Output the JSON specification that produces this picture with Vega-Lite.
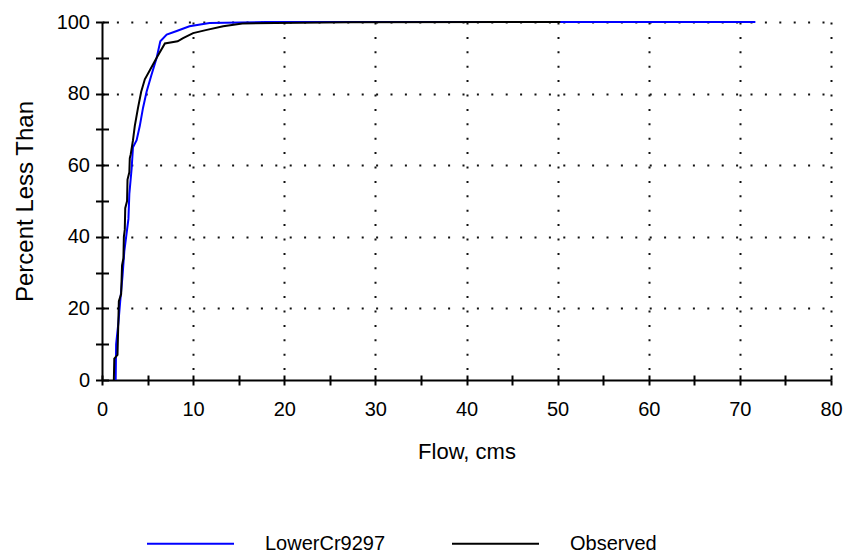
{
  "$schema": "https://vega.github.io/schema/vega-lite/v6.json",
  "width": 729,
  "height": 358,
  "autosize": "none",
  "padding": {"left": 102, "top": 22, "right": 13, "bottom": 174},
  "background": "white",
  "config": {
    "view": {"stroke": null},
    "font": "Liberation Sans",
    "axis": {
      "labelFont": "Liberation Sans",
      "titleFont": "Liberation Sans",
      "labelColor": "#000",
      "titleColor": "#000",
      "titleFontWeight": "normal",
      "labelFontSize": 20,
      "titleFontSize": 22,
      "domainColor": "#000",
      "domainWidth": 2,
      "tickColor": "#000",
      "tickWidth": 2
    },
    "legend": {
      "labelFont": "Liberation Sans",
      "labelFontSize": 20,
      "labelColor": "#000"
    }
  },
  "data": {
    "values": [
      {"series": "LowerCr9297", "flow": 1.5, "pct": 0},
      {"series": "LowerCr9297", "flow": 1.55, "pct": 10},
      {"series": "LowerCr9297", "flow": 1.8, "pct": 16},
      {"series": "LowerCr9297", "flow": 2.0, "pct": 22},
      {"series": "LowerCr9297", "flow": 2.25, "pct": 29},
      {"series": "LowerCr9297", "flow": 2.45, "pct": 36},
      {"series": "LowerCr9297", "flow": 2.65, "pct": 40},
      {"series": "LowerCr9297", "flow": 2.9, "pct": 45},
      {"series": "LowerCr9297", "flow": 3.0, "pct": 52},
      {"series": "LowerCr9297", "flow": 3.25, "pct": 59},
      {"series": "LowerCr9297", "flow": 3.4, "pct": 65},
      {"series": "LowerCr9297", "flow": 3.8, "pct": 67},
      {"series": "LowerCr9297", "flow": 4.15, "pct": 71},
      {"series": "LowerCr9297", "flow": 4.5, "pct": 76},
      {"series": "LowerCr9297", "flow": 4.9, "pct": 80.6},
      {"series": "LowerCr9297", "flow": 5.4, "pct": 85},
      {"series": "LowerCr9297", "flow": 6.0, "pct": 90},
      {"series": "LowerCr9297", "flow": 6.4, "pct": 94.6},
      {"series": "LowerCr9297", "flow": 7.1, "pct": 96.5},
      {"series": "LowerCr9297", "flow": 8.2, "pct": 97.5},
      {"series": "LowerCr9297", "flow": 9.6, "pct": 98.8},
      {"series": "LowerCr9297", "flow": 11.8, "pct": 99.7},
      {"series": "LowerCr9297", "flow": 18, "pct": 100},
      {"series": "LowerCr9297", "flow": 71.7, "pct": 100},
      {"series": "Observed", "flow": 1.3, "pct": 0},
      {"series": "Observed", "flow": 1.35, "pct": 6},
      {"series": "Observed", "flow": 1.7, "pct": 7},
      {"series": "Observed", "flow": 1.85, "pct": 22},
      {"series": "Observed", "flow": 2.1, "pct": 24},
      {"series": "Observed", "flow": 2.2, "pct": 32},
      {"series": "Observed", "flow": 2.35, "pct": 34},
      {"series": "Observed", "flow": 2.4, "pct": 40},
      {"series": "Observed", "flow": 2.5, "pct": 42},
      {"series": "Observed", "flow": 2.55, "pct": 48},
      {"series": "Observed", "flow": 2.75, "pct": 50},
      {"series": "Observed", "flow": 2.8, "pct": 56},
      {"series": "Observed", "flow": 3.0, "pct": 58},
      {"series": "Observed", "flow": 3.05, "pct": 62},
      {"series": "Observed", "flow": 3.15, "pct": 63},
      {"series": "Observed", "flow": 3.4, "pct": 67},
      {"series": "Observed", "flow": 3.6, "pct": 71},
      {"series": "Observed", "flow": 3.95, "pct": 76},
      {"series": "Observed", "flow": 4.3, "pct": 80.5},
      {"series": "Observed", "flow": 4.7, "pct": 84},
      {"series": "Observed", "flow": 5.25, "pct": 86.5},
      {"series": "Observed", "flow": 6.0, "pct": 90},
      {"series": "Observed", "flow": 6.9, "pct": 94},
      {"series": "Observed", "flow": 8.3, "pct": 94.6},
      {"series": "Observed", "flow": 8.9, "pct": 95.5},
      {"series": "Observed", "flow": 10.0, "pct": 96.9},
      {"series": "Observed", "flow": 11.5, "pct": 97.8},
      {"series": "Observed", "flow": 13.3, "pct": 98.8},
      {"series": "Observed", "flow": 15.4, "pct": 99.6},
      {"series": "Observed", "flow": 19.0, "pct": 99.7},
      {"series": "Observed", "flow": 27.0, "pct": 99.9},
      {"series": "Observed", "flow": 50.3, "pct": 100}
    ]
  },
  "layer": [
    {
      "mark": {"type": "point", "opacity": 0},
      "encoding": {
        "x": {
          "field": "flow", "type": "quantitative",
          "scale": {"domain": [0, 80], "nice": false, "zero": false},
          "axis": {
            "orient": "bottom", "title": null, "labels": false, "ticks": false, "domain": false,
            "grid": true, "values": [10, 20, 30, 40, 50, 60, 70, 80],
            "gridColor": "#111", "gridWidth": 2, "gridDash": [2, 12.4], "gridOpacity": 1
          }
        },
        "y": {
          "field": "pct", "type": "quantitative",
          "scale": {"domain": [0, 100], "nice": false, "zero": false},
          "axis": {
            "orient": "left", "title": null, "labels": false, "ticks": false, "domain": false,
            "grid": true, "values": [20, 40, 60, 80, 100],
            "gridColor": "#111", "gridWidth": 2, "gridDash": [2, 12.4], "gridOpacity": 1
          }
        }
      }
    },
    {
      "mark": {"type": "point", "opacity": 0},
      "encoding": {
        "x": {
          "field": "flow", "type": "quantitative",
          "axis": {
            "orient": "bottom", "title": null, "labels": false, "domain": false, "grid": false,
            "ticks": true, "tickSize": 5, "offset": -5,
            "values": [0, 5, 10, 15, 20, 25, 30, 35, 40, 45, 50, 55, 60, 65, 70, 75, 80]
          }
        },
        "y": {
          "field": "pct", "type": "quantitative",
          "axis": {
            "orient": "left", "title": null, "labels": false, "domain": false, "grid": false,
            "ticks": true, "tickSize": 6.5, "offset": -6.5,
            "values": [0, 10, 20, 30, 40, 50, 60, 70, 80, 90, 100]
          }
        }
      }
    },
    {
      "mark": {"type": "line", "strokeWidth": 2},
      "encoding": {
        "x": {
          "field": "flow", "type": "quantitative",
          "axis": {
            "orient": "bottom", "title": "Flow, cms", "grid": false,
            "values": [0, 5, 10, 15, 20, 25, 30, 35, 40, 45, 50, 55, 60, 65, 70, 75, 80],
            "labelExpr": "datum.value % 10 === 0 ? datum.label : ''",
            "tickSize": 5, "labelPadding": 14, "titlePadding": 22,
            "labelFlush": false, "labelOverlap": false
          }
        },
        "y": {
          "field": "pct", "type": "quantitative",
          "axis": {
            "orient": "left", "title": "Percent Less Than", "grid": false,
            "values": [0, 10, 20, 30, 40, 50, 60, 70, 80, 90, 100],
            "labelExpr": "datum.value % 20 === 0 ? datum.label : ''",
            "tickSize": 6.5, "labelPadding": 6, "titlePadding": 19, "titleFontSize": 24,
            "labelFlush": false, "labelOverlap": false
          }
        },
        "color": {
          "field": "series", "type": "nominal",
          "scale": {"domain": ["LowerCr9297", "Observed"], "range": ["#0000ff", "#000000"]},
          "legend": {
            "title": null, "orient": "none", "direction": "horizontal",
            "legendX": 44, "legendY": 477,
            "symbolType": "stroke", "symbolSize": 7569, "symbolStrokeWidth": 2,
            "labelOffset": 30, "columnPadding": 62
          }
        }
      }
    }
  ],
  "resolve": {"axis": {"x": "independent", "y": "independent"}}
}
